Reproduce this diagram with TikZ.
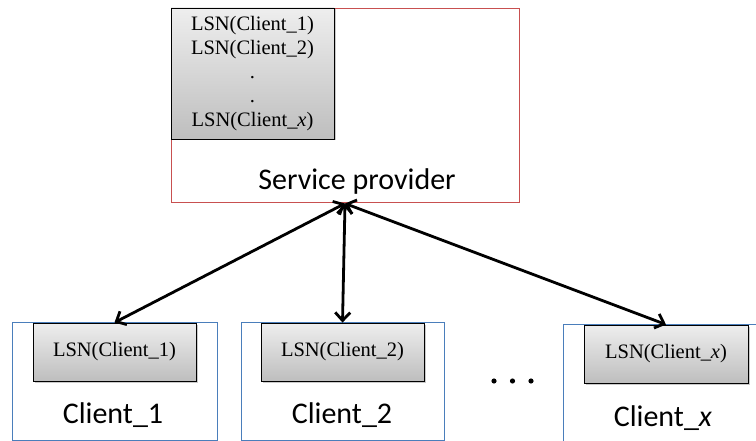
\documentclass[tikz,border=0pt]{standalone}
\usepackage{fontspec}
\setmainfont{Liberation Serif}
\newfontfamily\labelfont{Carlito}
\newfontfamily\lsnfont{Liberation Serif}
\usetikzlibrary{arrows.meta,shadows}
\definecolor{provred}{RGB}{200,80,80}
\definecolor{clientblue}{RGB}{74,126,187}
\definecolor{lsntop}{RGB}{238,238,238}
\definecolor{lsnbot}{RGB}{190,190,190}
\begin{document}
\begin{tikzpicture}[x=1pt,y=-1pt,
  lsnbox/.style={draw=black, line width=0.9pt, top color=lsntop, bottom color=lsnbot,
    drop shadow={shadow xshift=1.5pt, shadow yshift=-1.5pt, opacity=0.35, fill=black!60},
    inner sep=0pt, align=center, font=\lsnfont\fontsize{20.5}{24}\selectfont},
  provbox/.style={draw=provred, line width=1pt, inner sep=0pt},
  clientbox/.style={draw=clientblue, line width=1pt, inner sep=0pt},
  boxlabel/.style={font=\labelfont\fontsize{30}{34}\selectfont, inner sep=0pt},
  conn/.style={line width=2.8pt, {Straight Barb[length=8pt,width=15pt]}-{Straight Barb[length=8pt,width=15pt]}}]
\useasboundingbox (0,0) rectangle (756,441);

% service provider with its table of client LSNs
\node[provbox, minimum width=348pt, minimum height=194pt] (prov) at (345,106) {};
\node[lsnbox, minimum width=163pt, minimum height=131pt] (table) at (252.5,73.5)
  {LSN(Client\_1)\\LSN(Client\_2)\\.\\.\\LSN(Client\_\textit{x})};
\node[boxlabel] (provlabel) at (357,182) {Service provider};

% clients
\node[clientbox, minimum width=205pt, minimum height=118pt] (c1) at (114.5,381) {};
\node[clientbox, minimum width=203pt, minimum height=118pt] (c2) at (342.5,381) {};
\node[clientbox, minimum width=205pt, minimum height=118pt] (cx) at (665.5,383) {};

\node[lsnbox, minimum width=163pt, minimum height=58pt] (g1) at (114.5,352) {LSN(Client\_1)};
\node[lsnbox, minimum width=163pt, minimum height=58pt] (g2) at (342.5,352) {LSN(Client\_2)};
\node[lsnbox, minimum width=164pt, minimum height=58pt] (gx) at (666,354) {LSN(Client\_\textit{x})};

\node[boxlabel] (l1) at (113,415) {Client\_1};
\node[boxlabel] (l2) at (342,415) {Client\_2};
\node[boxlabel] (lx) at (663,418) {Client\_\textit{x}};

% ellipsis between the clients
\foreach \dx in {494,512.5,531}
  \fill (\dx,381) circle (2.6pt);

% links between provider and clients
\draw[conn] (prov.south) -- (g1.north);
\draw[conn] (prov.south) -- (g2.north);
\draw[conn] (prov.south) -- (gx.north);
\end{tikzpicture}
\end{document}
